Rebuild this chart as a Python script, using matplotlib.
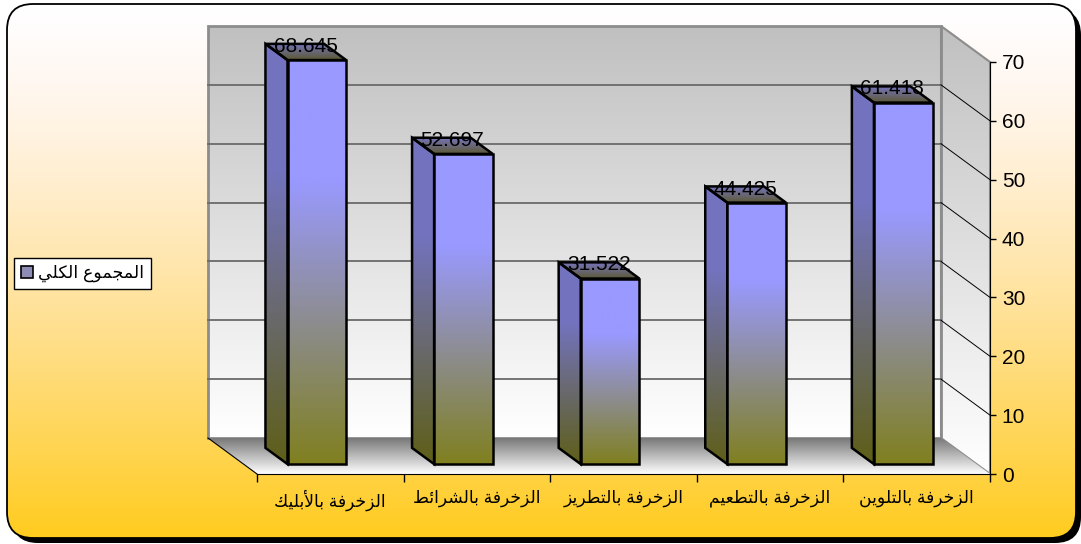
import numpy as np
import matplotlib
matplotlib.use('Agg')
import matplotlib.pyplot as plt
from matplotlib.patches import Polygon, FancyBboxPatch, Patch

# chart data (left to right as drawn)
categories = ['الزخرفة بالأبليك', 'الزخرفة بالشرائط', 'الزخرفة بالتطريز',
              'الزخرفة بالتطعيم', 'الزخرفة بالتلوين']
values = [68.645, 52.697, 31.522, 44.425, 61.418]
series_name = 'المجموع الكلي'
y_ticks = [0, 10, 20, 30, 40, 50, 60, 70]

FONT = ['Liberation Sans', 'DejaVu Sans']

# --- minimal arabic shaping (matplotlib has no text shaping) ---
FORMS = {
    0x0627: (0xFE8D, 0xFE8E), 0x0623: (0xFE83, 0xFE84),
    0x0628: (0xFE8F, 0xFE90, 0xFE91, 0xFE92), 0x062A: (0xFE95, 0xFE96, 0xFE97, 0xFE98),
    0x0629: (0xFE93, 0xFE94), 0x062C: (0xFE9D, 0xFE9E, 0xFE9F, 0xFEA0),
    0x062E: (0xFEA5, 0xFEA6, 0xFEA7, 0xFEA8), 0x0631: (0xFEAD, 0xFEAE),
    0x0632: (0xFEAF, 0xFEB0), 0x0634: (0xFEB5, 0xFEB6, 0xFEB7, 0xFEB8),
    0x0637: (0xFEC1, 0xFEC2, 0xFEC3, 0xFEC4), 0x0639: (0xFEC9, 0xFECA, 0xFECB, 0xFECC),
    0x0641: (0xFED1, 0xFED2, 0xFED3, 0xFED4), 0x0643: (0xFED9, 0xFEDA, 0xFEDB, 0xFEDC),
    0x0644: (0xFEDD, 0xFEDE, 0xFEDF, 0xFEE0), 0x0645: (0xFEE1, 0xFEE2, 0xFEE3, 0xFEE4),
    0x0646: (0xFEE5, 0xFEE6, 0xFEE7, 0xFEE8), 0x0648: (0xFEED, 0xFEEE),
    0x064A: (0xFEF1, 0xFEF2, 0xFEF3, 0xFEF4), 0x0626: (0xFE89, 0xFE8A, 0xFE8B, 0xFE8C),
}
LAMALEF = {0x0627: (0xFEFB, 0xFEFC), 0x0623: (0xFEF7, 0xFEF8)}


def shape(s):
    out = []
    n = len(s)
    i = 0
    while i < n:
        c = ord(s[i])
        if c not in FORMS:
            out.append(s[i])
            i += 1
            continue
        prev = ord(s[i - 1]) if i > 0 else None
        jp = prev in FORMS and len(FORMS[prev]) == 4
        if c == 0x0644 and i + 1 < n and ord(s[i + 1]) in LAMALEF:
            lig = LAMALEF[ord(s[i + 1])]
            out.append(chr(lig[1] if jp else lig[0]))
            i += 2
            continue
        nxt = ord(s[i + 1]) if i + 1 < n else None
        f = FORMS[c]
        jn = len(f) == 4 and nxt in FORMS
        if jp and jn:
            g = f[3]
        elif jp:
            g = f[1]
        elif jn:
            g = f[2]
        else:
            g = f[0]
        out.append(chr(g))
        i += 1
    return ''.join(reversed(out))


W, H = 1081, 544
fig = plt.figure(figsize=(W / 100, H / 100), dpi=100)

# background with rounded border
bg = fig.add_axes([0, 0, 1, 1], zorder=0)
bg.set_xlim(0, W)
bg.set_ylim(H, 0)
bg.axis('off')
t = np.linspace(0, 1, 256)[:, None]
grad = np.dstack([np.ones_like(t), 1 - 0.2 * t, 1 - 0.88 * t ** 1.4])
shadow = FancyBboxPatch((12, 9), 1069, 534, boxstyle='round,pad=0,rounding_size=26',
                        facecolor='black', edgecolor='none')
bg.add_patch(shadow)
frame = FancyBboxPatch((7, 4), 1069, 534, boxstyle='round,pad=0,rounding_size=26',
                       facecolor='none', edgecolor='black', lw=1.3, zorder=3)
bg.add_patch(frame)
im = bg.imshow(grad, extent=[7, 1076, 538, 4], aspect='auto', zorder=2)
im.set_clip_path(frame)

# main chart axes: front plane x = category units, y = value units
ax = fig.add_axes([0, 0, 1, 1], zorder=1)
ax.patch.set_visible(False)
px_x = 146.6   # pixels per category
px_y = 5.886   # pixels per value unit
x0_px, y0_px = 257, 474
DX = -49 / px_x      # full depth offset
DY = 36 / px_y
ncat = len(values)


def P(x, y, d):
    return (x + d * DX, y + d * DY)


def vgrad(c_bot, c_top, hold=1.0, n=200):
    s = np.linspace(0, 1, n)
    s = np.clip(s / hold, 0, 1)[:, None]
    c_bot = np.array(c_bot) / 255
    c_top = np.array(c_top) / 255
    return (c_bot + (c_top - c_bot) * s)[:, None, :]


def grad_poly(verts, img, ec='black', lw=1.8, z=3):
    xs = [v[0] for v in verts]
    ys = [v[1] for v in verts]
    poly = Polygon(verts, closed=True, facecolor='none', edgecolor=ec, lw=lw,
                   zorder=z + 0.1, joinstyle='miter')
    ax.add_patch(poly)
    im = ax.imshow(img, extent=[min(xs), max(xs), min(ys), max(ys)], origin='lower',
                   aspect='auto', zorder=z, interpolation='bilinear')
    im.set_clip_path(poly)


ymax = 70
# back wall
grad_poly([P(0, 0, 1), P(ncat, 0, 1), P(ncat, ymax, 1), P(0, ymax, 1)],
          vgrad((255, 255, 255), (192, 192, 192)), ec='#8c8c8c', lw=2, z=1)
# right side wall
grad_poly([P(ncat, 0, 1), P(ncat, 0, 0), P(ncat, ymax, 0), P(ncat, ymax, 1)],
          vgrad((255, 255, 255), (192, 192, 192)), ec='#8c8c8c', lw=1.5, z=1)
for v in y_ticks[1:-1]:
    a, b = P(0, v, 1), P(ncat, v, 1)
    ax.plot([a[0], b[0]], [a[1], b[1]], color='#6a6a6a', lw=1.3, zorder=1.5)
    c = P(ncat, v, 0)
    ax.plot([b[0], c[0]], [b[1], c[1]], color='black', lw=0.7, zorder=1.5)
# floor
grad_poly([P(0, 0, 0), P(ncat, 0, 0), P(ncat, 0, 1), P(0, 0, 1)],
          vgrad((255, 255, 255), (120, 120, 120)), ec='none', lw=0, z=1.6)
a, b = P(0, 0, 1), P(0, 0, 0)
ax.plot([a[0], b[0]], [a[1], b[1]], color='black', lw=0.8, zorder=1.7)

# bars
blue = (153, 153, 255)
olive = (128, 128, 32)
d0, d1 = 0.275, 0.725
bw = 0.4
for i, v in enumerate(values):
    xl = i + 0.5 - bw / 2
    xr = i + 0.5 + bw / 2
    # left side face
    grad_poly([P(xl, 0, d0), P(xl, v, d0), P(xl, v, d1), P(xl, 0, d1)],
              vgrad(tuple(0.74 * c for c in olive), tuple(0.75 * c for c in blue), hold=0.7), z=3)
    # top face
    grad_poly([P(xl, v, d0), P(xr, v, d0), P(xr, v, d1), P(xl, v, d1)],
              vgrad((92, 88, 50), (118, 118, 190)), z=3)
    # front face
    grad_poly([P(xl, 0, d0), P(xr, 0, d0), P(xr, v, d0), P(xl, v, d0)],
              vgrad(olive, blue, hold=0.7), z=3.2)
    lx, ly = P(i + 0.5, v, 0.5)
    ax.text(lx, ly, f'{v:.3f}', ha='center', va='baseline', fontsize=15,
            family=FONT, color='black', zorder=5)

# axes, ticks, labels
for s in ['left', 'top']:
    ax.spines[s].set_visible(False)
ax.spines['right'].set_position(('data', ncat))
ax.spines['right'].set_bounds(0, ymax)
ax.spines['bottom'].set_position(('data', 0))
ax.spines['bottom'].set_bounds(0, ncat)
ax.spines['right'].set_zorder(4)
ax.spines['bottom'].set_zorder(4)
ax.yaxis.tick_right()
ax.set_yticks(y_ticks)
ax.set_yticklabels([str(v) for v in y_ticks], fontsize=15, family=FONT)
ax.tick_params(axis='y', direction='out', length=4.5, width=1, pad=4)
ax.set_xticks(np.arange(ncat + 1))
ax.set_xticklabels([''] * (ncat + 1))
ax.set_xticks(np.arange(ncat) + 0.5, [shape(c) for c in categories], minor=True)
ax.tick_params(axis='x', which='major', direction='out', length=5.5, width=1)
ax.tick_params(axis='x', which='minor', length=0, pad=11)
for lab in ax.get_xticklabels(minor=True):
    lab.set_fontsize(12.3)
    lab.set_family(FONT)

ax.set_xlim(-x0_px / px_x, (W - x0_px) / px_x)
ax.set_ylim(-(H - y0_px) / px_y, y0_px / px_y)

# legend
handle = Patch(facecolor='#8c8cb4', edgecolor='black', lw=1.2)
leg = fig.legend([handle], [shape(series_name)], loc='center left',
                 bbox_to_anchor=(14 / W, 1 - 273.5 / H), borderaxespad=0,
                 frameon=True, fancybox=False,
                 edgecolor='black', framealpha=1, borderpad=0.42, handlelength=0.7,
                 handleheight=0.7, handletextpad=0.25, prop={'family': FONT, 'size': 12.5})
leg.get_frame().set_linewidth(1)
leg.set_zorder(6)

fig.savefig('out.png', dpi=100)
